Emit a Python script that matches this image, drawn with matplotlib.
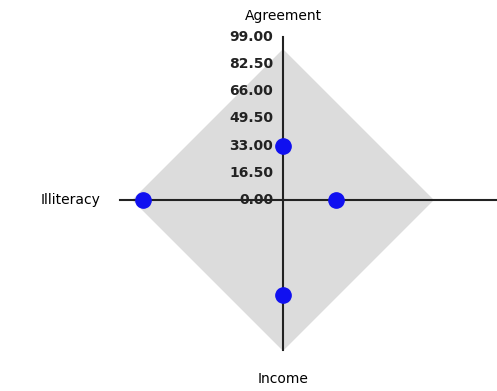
import numpy as np
import matplotlib.pyplot as plt

categories = ['Agreement', 'Openness', 'Income', 'Illiteracy']
values = [33, 32, 58, 85]
ticks = [0, 16.5, 33, 49.5, 66, 82.5, 99]
rmax = 99

# angles clockwise from the top
angles = np.arange(len(categories)) * 2 * np.pi / len(categories)

def to_xy(r, a):
    return np.asarray(r) * np.sin(a), np.asarray(r) * np.cos(a)

fig = plt.figure(figsize=(4.97, 3.91), dpi=100)
ax = fig.add_axes([0, 0, 1, 1])
k = rmax / 163.0
ax.set_xlim(-283 * k, 214 * k)
ax.set_ylim(-191 * k, 200 * k)
ax.set_aspect('equal')
ax.axis('off')

# gray background diamond
gx, gy = to_xy([rmax * 0.92] * 4, angles)
ax.fill(gx, gy, color='#dcdcdc', zorder=0)

# spokes
spoke_len = [rmax, rmax * 1.4, rmax * 0.92, rmax]
for a, L in zip(angles, spoke_len):
    sx, sy = to_xy([0, L], a)
    ax.plot(sx, sy, color='#222222', lw=1.5, zorder=2)

# radial tick labels along the top spoke
for t in ticks:
    ax.text(-10 * k, t, f'{t:.2f}', ha='right', va='center', fontsize=10,
            fontweight='semibold', color='#222222', zorder=3)

# data markers
px, py = to_xy(values, angles)
ax.plot(px, py, 'o', color='#1010f0', markersize=11, zorder=4, linestyle='none')

# category labels (the right one falls off the canvas in the original)
ax.text(0, rmax * 1.13, categories[0], ha='center', va='center', fontsize=10)
ax.text(0, -rmax * 1.1, categories[2], ha='center', va='center', fontsize=10)
ax.text(-rmax * 1.12, 0, categories[3], ha='right', va='center', fontsize=10)

fig.savefig('out.png', dpi=100)
